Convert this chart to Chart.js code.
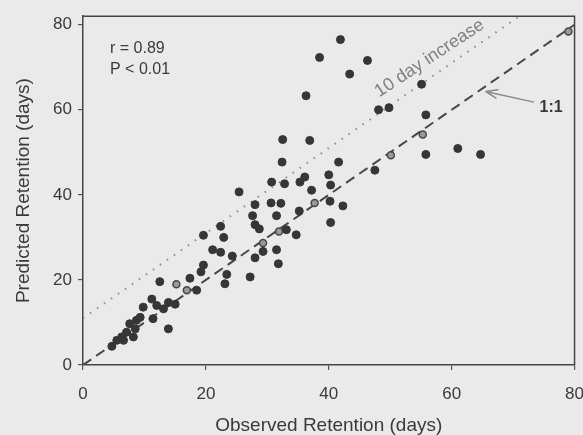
<!DOCTYPE html>
<html>
<head>
<meta charset="utf-8">
<script src="https://cdn.jsdelivr.net/npm/chart.js@4.4.1/dist/chart.umd.min.js"></script>
<style>
  html, body { margin: 0; padding: 0; background: #eaeaea; overflow: hidden; }
  #wrap { width: 598px; height: 435px; position: relative; }
</style>
</head>
<body>
<div id="wrap"><canvas id="chart"></canvas></div>
<script>
// Observed vs predicted retention (days)
const obsX = [41.9, 38.5, 46.3, 43.4, 36.3, 55.1, 48.1, 49.8, 55.8, 36.9, 32.5, 61.0, 64.7, 55.8,
  41.6, 40.0, 47.5, 32.4, 36.1, 30.7, 32.8, 35.3, 37.2, 40.3, 25.4, 28.0, 30.6, 32.2, 31.5, 35.2,
  40.2, 42.3, 27.6, 28.0, 28.7, 40.3, 33.1, 34.7, 19.6, 22.4, 22.9, 29.3, 31.5, 21.1, 22.4, 24.3,
  28.0, 31.8, 19.6, 23.4, 27.2, 19.2, 23.1, 12.5, 17.4, 18.5, 9.8, 11.2, 12.0, 13.9, 15.0, 13.1,
  11.4, 13.9, 4.7, 5.5, 6.3, 7.1, 7.6, 8.5, 8.7, 9.3, 8.2, 6.6];
const predY = [76.5, 72.3, 71.6, 68.4, 63.3, 66.0, 60.0, 60.5, 58.8, 52.8, 53.0, 50.9, 49.5, 49.5,
  47.7, 44.7, 45.8, 47.7, 44.2, 43.0, 42.6, 43.0, 41.1, 42.3, 40.7, 37.7, 38.1, 38.0, 35.1, 36.2,
  38.5, 37.4, 35.1, 33.0, 32.0, 33.5, 31.8, 30.6, 30.5, 32.6, 30.0, 26.7, 27.1, 27.1, 26.5, 25.6,
  25.2, 23.8, 23.5, 21.3, 20.7, 21.9, 19.1, 19.6, 20.4, 17.6, 13.6, 15.5, 14.0, 14.7, 14.3, 13.2,
  10.9, 8.5, 4.4, 5.8, 6.6, 7.7, 9.7, 8.5, 10.5, 11.2, 6.6, 5.8];

// points sitting on the 1:1 line (drawn as grey rings in the figure)
const onLineX = [55.3, 50.1, 79.0, 37.7, 31.9, 29.3, 15.2, 16.9];
const onLineY = [54.2, 49.3, 78.4, 38.1, 31.4, 28.7, 19.0, 17.6];

// reference lines
const oneToOneX = [0, 80];
const oneToOneY = [0, 80];
const tenDayX = [0, 71];
const tenDayY = [11, 82];

const xTicks = [0, 20, 40, 60, 80];
const yTicks = [0, 20, 40, 60, 80];

const FONT = "'Liberation Sans', Arial, Helvetica, sans-serif";
const INK = '#3a3a3a';

const toXY = (xs, ys) => xs.map((x, i) => ({ x: x, y: ys[i] }));

const paperPlugin = {
  id: 'paper',
  beforeDraw(chart) {
    const c = chart.ctx;
    c.save();
    c.fillStyle = '#eaeaea';
    c.fillRect(0, 0, chart.width, chart.height);
    c.restore();
  },
  afterDraw(chart) {
    const c = chart.ctx;
    const a = chart.chartArea;
    const xs = chart.scales.x, ys = chart.scales.y;
    c.save();

    // frame top + right
    c.strokeStyle = '#444';
    c.lineWidth = 1.5;
    c.beginPath();
    c.moveTo(a.left, a.top);
    c.lineTo(a.right, a.top);
    c.lineTo(a.right, a.bottom);
    c.stroke();

    // stats text
    c.fillStyle = INK;
    c.font = '16px ' + FONT;
    c.textAlign = 'left';
    c.textBaseline = 'middle';
    c.fillText('r = 0.89', a.left + 27, a.top + 32);
    c.fillText('P < 0.01', a.left + 27, a.top + 53);

    // label along the dotted line
    const px = xs.getPixelForValue(56.4), py = ys.getPixelForValue(72.1);
    c.save();
    c.translate(px, py);
    c.rotate(-33.5 * Math.PI / 180);
    c.fillStyle = '#808080';
    c.font = '18px ' + FONT;
    c.textAlign = 'center';
    c.fillText('10 day increase', 0, 0);
    c.restore();

    // 1:1 label and arrow
    c.fillStyle = INK;
    c.font = 'bold 16px ' + FONT;
    c.textAlign = 'left';
    c.fillText('1:1', xs.getPixelForValue(74.3), ys.getPixelForValue(60.5));

    const tx = xs.getPixelForValue(73.4), ty = ys.getPixelForValue(61.8);
    const hx = xs.getPixelForValue(65.5), hy = ys.getPixelForValue(64.3);
    c.strokeStyle = '#8a8a8a';
    c.lineWidth = 1.5;
    c.beginPath();
    c.moveTo(tx, ty);
    c.lineTo(hx, hy);
    const ang = Math.atan2(ty - hy, tx - hx);
    [0.35, -0.35].forEach(d => {
      c.moveTo(hx, hy);
      c.lineTo(hx + 13 * Math.cos(ang + d), hy + 13 * Math.sin(ang + d));
    });
    c.stroke();

    c.restore();
  }
};

new Chart(document.getElementById('chart'), {
  type: 'scatter',
  data: {
    datasets: [
      {
        label: 'Retention',
        data: toXY(obsX, predY),
        pointRadius: 4,
        pointBorderWidth: 1,
        pointBackgroundColor: '#363636',
        pointBorderColor: '#363636'
      },
      {
        label: 'On 1:1',
        data: toXY(onLineX, onLineY),
        pointRadius: 3.5,
        pointBorderWidth: 1.5,
        pointBackgroundColor: '#9a9a9a',
        pointBorderColor: '#474747'
      },
      {
        label: '1:1',
        type: 'line',
        data: toXY(oneToOneX, oneToOneY),
        borderColor: '#474747',
        borderWidth: 2,
        borderDash: [10, 6],
        pointRadius: 0,
        fill: false
      },
      {
        label: '10 day increase',
        type: 'line',
        data: toXY(tenDayX, tenDayY),
        borderColor: '#8c8c8c',
        borderWidth: 2,
        borderDash: [1.5, 7],
        pointRadius: 0,
        fill: false
      }
    ]
  },
  options: {
    responsive: true,
    maintainAspectRatio: false,
    animation: false,
    layout: { padding: { top: 13, left: 0, right: 0, bottom: 0 } },
    plugins: {
      legend: { display: false },
      tooltip: { enabled: false }
    },
    scales: {
      x: {
        type: 'linear',
        min: 0,
        max: 80,
        afterBuildTicks: s => { s.ticks = xTicks.map(v => ({ value: v })); },
        afterFit: s => { s.height = 70; },
        ticks: { color: INK, font: { family: FONT, size: 17 }, padding: 14 },
        grid: { drawOnChartArea: false, tickLength: 5, color: '#555', lineWidth: 1.2 },
        border: { color: '#444', width: 1.5 },
        title: {
          display: true,
          text: 'Observed Retention (days)',
          color: INK,
          font: { family: FONT, size: 19 },
          padding: { top: 0, bottom: -2 }
        }
      },
      y: {
        type: 'linear',
        min: 0,
        max: 82,
        afterBuildTicks: s => { s.ticks = yTicks.map(v => ({ value: v })); },
        afterFit: s => { s.width = 83; },
        ticks: { color: INK, font: { family: FONT, size: 17 }, padding: 6 },
        grid: { drawOnChartArea: false, tickLength: 5, color: '#555', lineWidth: 1.2 },
        border: { color: '#444', width: 1.5 },
        title: {
          display: true,
          text: 'Predicted Retention (days)',
          color: INK,
          font: { family: FONT, size: 19 },
          padding: { top: 12, bottom: 0 }
        }
      }
    }
  },
  plugins: [paperPlugin]
});
</script>
</body>
</html>
